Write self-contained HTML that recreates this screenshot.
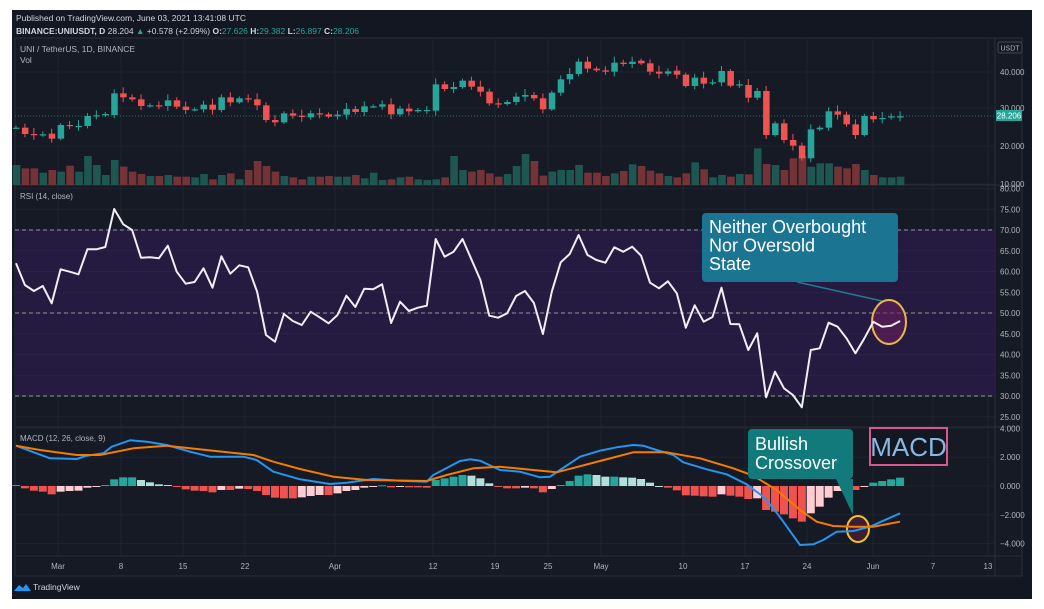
<!DOCTYPE html>
<html><head><meta charset="utf-8"><style>
html,body{margin:0;padding:0;background:#fff;width:1044px;height:609px;overflow:hidden;font-family:"Liberation Sans",sans-serif}
svg{position:absolute;left:0;top:0}
</style></head><body>
<svg id="s" width="1044" height="609" xmlns="http://www.w3.org/2000/svg"></svg>
<script>
const S=document.getElementById('s');let h='';
const X=i=>16+i*8.93;
h+='<rect x="12" y="10" width="1020" height="589" fill="#131722"/>';
h+='<rect x="15" y="38" width="1007" height="538" fill="#161a25" stroke="#2a2e39"/>';
h+='<text x="16" y="21" fill="#d1d4dc" font-size="8.5">Published on TradingView.com, June 03, 2021 13:41:08 UTC</text>';
h+='<text x="16" y="34" fill="#d1d4dc" font-size="8.5"><tspan font-weight="bold">BINANCE:UNIUSDT, D</tspan> 28.204 <tspan fill="#26a69a">▲</tspan> +0.578 (+2.09%) <tspan font-weight="bold">O:</tspan><tspan fill="#26a69a">27.626 </tspan><tspan font-weight="bold">H:</tspan><tspan fill="#26a69a">29.382 </tspan><tspan font-weight="bold">L:</tspan><tspan fill="#26a69a">26.897 </tspan><tspan font-weight="bold">C:</tspan><tspan fill="#26a69a">28.206</tspan></text>';
const dx=[58,121,183,245,335,433,495,548,601,683,745,807,873,933,988],dl=['Mar','8','15','22','Apr','12','19','25','May','10','17','24','Jun','7','13'];
dx.forEach((x,i)=>{h+=`<line x1="${x}" y1="38" x2="${x}" y2="556" stroke="#1f2330"/>`;h+=`<text x="${x}" y="569" fill="#b2b5be" font-size="8" text-anchor="middle">${dl[i]}</text>`});
[185,427,556].forEach(y=>h+=`<line x1="15" y1="${y}" x2="1022" y2="${y}" stroke="#2a2e39"/>`);
h+='<line x1="995" y1="38" x2="995" y2="576" stroke="#2a2e39"/>';
[[72,'40.000'],[108,'30.000'],[146,'20.000'],[184,'10.000']].forEach(([y,t])=>{h+=`<line x1="15" y1="${y}" x2="995" y2="${y}" stroke="#1f2330"/><text x="1000" y="${y+3}" fill="#b2b5be" font-size="8">${t}</text>`});
h+='<rect x="998" y="42" width="24" height="11" rx="2" fill="none" stroke="#434651"/><text x="1010" y="50.5" fill="#b2b5be" font-size="7" text-anchor="middle">USDT</text>';
h+='<text x="20" y="52" fill="#b2b5be" font-size="8.5">UNI / TetherUS, 1D, BINANCE</text><text x="20" y="63" fill="#b2b5be" font-size="8.5">Vol</text>';
const c1=[[263,263],[263,282],[282,285],[283,283],[281,296],[296,255],[255,258],[258,258],[258,228],[226,226],[226,222],[225,160],[160,172],[172,178],[178,198],[198,196],[196,198],[198,181],[181,200],[200,210],[209,208],[208,194],[194,209],[210,172],[172,187],[187,175],[175,178],[178,196],[196,240],[240,247],[247,220],[220,227],[227,231],[232,220],[220,223],[223,230],[229,224],[224,207],[207,216],[216,199],[199,199],[200,193],[193,223],[223,206],[206,214],[214,210],[212,210],[212,133],[133,147],[147,141],[141,122],[122,140],[140,155],[155,190],[190,192],
[192,186],[186,170],[170,165],[165,175],[175,208],[208,158],[158,118],[118,102],[102,65],[65,86],[86,91],[91,95],[95,68],[68,72],[72,65],[62,70],[70,95],[95,101],[101,94],[92,104],[104,138],[138,113],[113,131],[128,127],[127,93],[93,137],[134,133],[135,173],[173,153],[153,285],[285,250],[250,300],[300,317],[317,355],[355,268],[268,263],[263,214],[214,224],[224,253],[253,285],[285,228],[228,238],[236,234],[232,229],[232,229]];
const v=[375,385,385,398,390,395,377,395,348,375,405,360,380,395,402,408,408,405,410,410,412,402,418,405,400,418,390,363,378,395,408,412,418,410,410,408,410,410,405,415,398,420,418,412,410,418,420,418,412,348,390,395,390,400,410,
402,378,342,363,407,395,390,390,375,398,398,408,400,393,373,378,392,400,408,412,400,367,388,412,405,410,402,403,325,372,375,390,355,348,380,370,370,380,385,372,390,405,412,412];
const G='#26a69a',R='#ef5350';
c1.forEach((c,i)=>{const x=X(i),o=40+c[0]/3,cl=40+c[1]/3,up=cl<=o,col=up?G:R;const top=Math.min(o,cl),bot=Math.max(o,cl);
const vv=v[i]||410;h+=`<rect x="${x-3.3}" y="${40+vv/3}" width="7.6" height="${185-40-vv/3}" fill="${up?'#1f5e58':'#7e3638'}" opacity="0.9"/>`;
const w=2+(i*7%5);h+=`<line x1="${x}" y1="${top-w}" x2="${x}" y2="${bot+w*0.8}" stroke="${col}"/>`;
h+=`<rect x="${x-3}" y="${top}" width="6.5" height="${Math.max(1.2,bot-top)}" fill="${col}"/>`});
h+='<line x1="15" y1="116" x2="995" y2="116" stroke="#26a69a" stroke-dasharray="1,2" opacity="0.6"/>';
h+='<rect x="996" y="110" width="26" height="11" fill="#26a69a"/><text x="1009" y="118.5" fill="#fff" font-size="8" text-anchor="middle">28.206</text>';
const ry=val=>313-(val-50)*4.15;
h+=`<rect x="15" y="${ry(70)}" width="980" height="${ry(30)-ry(70)}" fill="#261a40" opacity="0.95"/>`;
for(let q=80;q>=25;q-=5){const y=ry(q);h+=`<line x1="15" y1="${y}" x2="995" y2="${y}" stroke="#ffffff" stroke-opacity="0.04"/><text x="1000" y="${y+3}" fill="#b2b5be" font-size="8">${q.toFixed(2)}</text>`}
[70,50,30].forEach(q=>h+=`<line x1="15" y1="${ry(q)}" x2="995" y2="${ry(q)}" stroke="#9598a1" stroke-dasharray="4,3"/>`);
h+='<text x="20" y="199" fill="#b2b5be" font-size="8">RSI (14, close)</text>';
const rs=[235,300,318,303,355,253,260,268,193,193,186,72,118,135,218,217,220,182,260,296,291,250,308,214,266,241,247,320,450,470,387,408,420,380,397,415,390,332,366,311,313,298,414,350,378,368,362,162,215,200,162,223,285,392,398,
385,333,318,354,447,320,232,207,150,210,225,233,187,200,185,212,293,310,289,325,428,361,410,396,308,417,418,495,445,637,560,610,630,667,495,490,413,425,460,505,460,410,425,422,408];
h+='<line x1="797" y1="282" x2="882" y2="301" stroke="#1e7a93" stroke-width="1.5"/>';
h+='<ellipse cx="889" cy="322" rx="17" ry="22" fill="#6a1f5a" fill-opacity="0.6" stroke="#e8b84a" stroke-width="2"/>';
h+=`<polyline fill="none" stroke="#f2eef5" stroke-width="2" stroke-linejoin="round" points="${rs.map((y,i)=>X(i).toFixed(1)+','+(185+y/3).toFixed(1)).join(' ')}"/>`;
h+='<rect x="702" y="213" width="196" height="69" rx="4" fill="#1b7592"/>';
['Neither Overbought','Nor Oversold','State'].forEach((t,i)=>h+=`<text x="709" y="${233+i*18.5}" fill="#fff" font-size="18">${t}</text>`);
const my=val=>486-val*14.4;
[[4,'4.000'],[2,'2.000'],[0,'0.000'],[-2,'\u22122.000'],[-4,'\u22124.000']].forEach(([q,t])=>{const y=my(q);h+=`<line x1="15" y1="${y}" x2="995" y2="${y}" stroke="#1f2330"/><text x="1000" y="${y+3}" fill="#b2b5be" font-size="8">${t}</text>`});
h+='<text x="20" y="441" fill="#b2b5be" font-size="8">MACD (12, 26, close, 9)</text>';
const hs=[180,190,197,200,208,200,198,197,188,184,180,163,157,157,165,172,178,180,186,193,197,198,202,195,195,191,192,198,210,218,220,220,217,213,210,210,205,198,195,188,185,181,187,185,187,187,188,165,160,155,150,152,160,175,186,
190,190,188,190,202,192,180,168,152,148,150,155,155,157,158,162,173,183,188,196,211,212,214,215,208,212,215,222,220,255,260,268,280,290,265,245,218,198,192,195,184,173,168,163,158];
hs.forEach((z,i)=>{const val=183-z,prev=i?183-hs[i-1]:0;let col;if(val>=0)col=val>=prev?G:'#b2dfdb';else col=val<=prev?R:'#ffcdd2';
const y0=425+183/3,y1=425+z/3;h+=`<rect x="${X(i)-4}" y="${Math.min(y0,y1)}" width="8" height="${Math.max(1,Math.abs(y1-y0))}" fill="${col}"/>`});
const pl=(pts,off)=>pts.map(([x,y])=>((off+x/3)).toFixed(1)+','+(425+y/3).toFixed(1));
const b1=[[48,62],[150,100],[230,102],[260,92],[310,85],[335,65],[390,46],[440,50],[500,60],[570,80],[630,95],[730,95],[770,105],[820,140],[900,163],[990,177],[1040,173],[1120,162],[1200,167],[1280,170],[1300,150],[1380,108],[1410,103],[1440,107],[1500,135]];
const b2=[[60,140],[120,157],[150,155],[180,135],[240,95],[300,77],[350,67],[400,60],[430,62],[460,72],[520,90],[550,112],[620,133],[680,148],[740,178],[790,215],[820,250],[850,290],[900,360],[940,358],[970,345],[1010,320],[1060,318],[1110,305],[1200,265]];
const o1=[[48,62],[120,75],[230,90],[300,90],[400,70],[500,62],[640,77],[760,90],[820,110],[900,132],[1000,155],[1100,165],[1280,168],[1340,150],[1420,130],[1500,125]];
const o2=[[100,135],[170,142],[300,108],[400,82],[500,82],[600,100],[700,130],[760,152],[830,195],[900,255],[950,290],[1000,303],[1060,305],[1120,305],[1200,290]];
h+='<ellipse cx="858" cy="529" rx="11" ry="13" fill="#5a1f3a" fill-opacity="0.6" stroke="#f0c030" stroke-width="2"/>';
h+=`<polyline fill="none" stroke="#2196f3" stroke-width="2" stroke-linejoin="round" points="${pl(b1,0).concat(pl(b2,500)).join(' ')}"/>`;
h+=`<polyline fill="none" stroke="#f57c00" stroke-width="2" stroke-linejoin="round" points="${pl(o1,0).concat(pl(o2,500)).join(' ')}"/>`;
h+='<path d="M836,479 L853,515 L853,479 Z" fill="#127a7a"/>';
h+='<rect x="748" y="429" width="105" height="50" rx="4" fill="#127a7a"/>';
h+='<text x="755" y="450" fill="#fff" font-size="18">Bullish</text><text x="755" y="469" fill="#fff" font-size="18">Crossover</text>';
h+='<rect x="870" y="428" width="77" height="37" fill="#131722" stroke="#d9578a" stroke-width="2"/><text x="908.5" y="456" fill="#8ab8e0" font-size="26" text-anchor="middle">MACD</text>';
h+='<line x1="15" y1="576" x2="1022" y2="576" stroke="#2a2e39"/>';
h+='<path d="M14,591 L19,585 L23,588 L26,584 L31,591 Z" fill="#2196f3"/><text x="33" y="590" fill="#d1d4dc" font-size="8.5">TradingView</text>';
S.innerHTML=h;
</script>
</body></html>
